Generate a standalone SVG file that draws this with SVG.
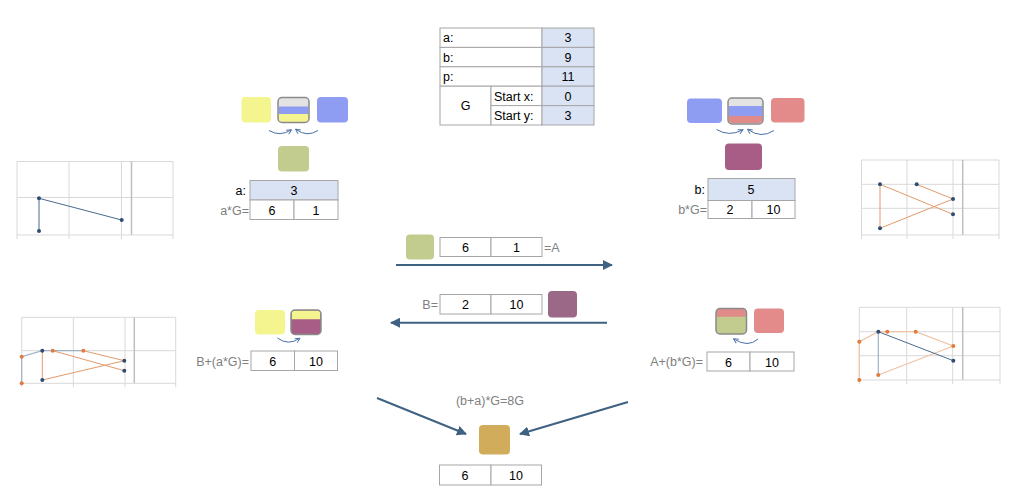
<svg xmlns="http://www.w3.org/2000/svg" width="1024" height="498" viewBox="0 0 1024 498">
<defs>
<marker id="ah" viewBox="0 0 10 10" refX="9" refY="5" markerWidth="5" markerHeight="5" orient="auto"><path d="M0,0 L10,5 L0,10 Z" fill="#3f6182"/></marker>
<marker id="sh" viewBox="0 0 10 10" refX="8" refY="5" markerWidth="6" markerHeight="6" orient="auto"><path d="M1,1 L9,5 L1,9" fill="none" stroke="#4a6fa5" stroke-width="1.5"/></marker>
</defs>
<style>
text{font-family:"Liberation Sans",Arial,sans-serif;font-size:12.5px;fill:#000}
.g{fill:#808080}
.c{text-anchor:middle}
.r{text-anchor:end}
.cell{fill:#fff;stroke:#a6a6a6;stroke-width:1}
.val{fill:#dae3f3;stroke:#a6a6a6;stroke-width:1}
.grid{stroke:#d9d9d9;stroke-width:1;fill:none}
.ax{stroke:#bfbfbf;stroke-width:1.5;fill:none}
.bl{stroke:#4a6a90;stroke-width:1;fill:none}
.bll{stroke:#9fb1c6;stroke-width:1.2;fill:none}
.or{stroke:#e39a6b;stroke-width:1;fill:none}
.orl{stroke:#f0c3a5;stroke-width:1.2;fill:none}
.bp{fill:#2e4d73}
.op{fill:#e07b3c}
.main{stroke:#3f6182;stroke-width:2;fill:none;marker-end:url(#ah)}
.curv{stroke:#4a6fa5;stroke-width:1;fill:none;marker-end:url(#sh)}
.split{stroke:#8a8a8a;stroke-width:1.5}
</style>

<g id="params">
<rect class="cell" x="440" y="28" width="102" height="19.4"/>
<rect class="val" x="542" y="28" width="52" height="19.4"/>
<rect class="cell" x="440" y="47.4" width="102" height="19.4"/>
<rect class="val" x="542" y="47.4" width="52" height="19.4"/>
<rect class="cell" x="440" y="66.8" width="102" height="19.4"/>
<rect class="val" x="542" y="66.8" width="52" height="19.4"/>
<rect class="cell" x="440" y="86.2" width="51" height="38.8"/>
<rect class="cell" x="491" y="86.2" width="51" height="19.4"/>
<rect class="val" x="542" y="86.2" width="52" height="19.4"/>
<rect class="cell" x="491" y="105.6" width="51" height="19.4"/>
<rect class="val" x="542" y="105.6" width="52" height="19.4"/>
<text x="443" y="42">a:</text><text class="c" x="568" y="42">3</text>
<text x="443" y="61.5">b:</text><text class="c" x="568" y="61.5">9</text>
<text x="443" y="81">p:</text><text class="c" x="568" y="81">11</text>
<text class="c" x="465.5" y="110">G</text>
<text x="494" y="100.5">Start x:</text><text class="c" x="568" y="100.5">0</text>
<text x="494" y="120">Start y:</text><text class="c" x="568" y="120">3</text>
</g>

<g id="alice-top">
<rect x="241.5" y="97" width="29.5" height="25.5" rx="4" fill="#f5f58f"/>
<rect x="278" y="97.5" width="31" height="25" rx="4" fill="#e3e3e3"/>
<rect x="278.7" y="106.5" width="29.6" height="7.5" fill="#8e9df2"/>
<path d="M278.7,114 H308.3 V118.5 a3.5,3.5 0 0 1 -3.5,3.5 H282.2 a3.5,3.5 0 0 1 -3.5,-3.5 Z" fill="#f5f58f"/>
<rect class="split" x="278" y="97.5" width="31" height="25" rx="4" fill="none"/>
<rect x="317" y="97" width="31" height="25.5" rx="4" fill="#8e9df2"/>
<path class="curv" d="M269,130.5 Q280,137 291,130"/>
<path class="curv" d="M318,130.5 Q307,137.5 296,129.5"/>
<rect x="278" y="146" width="31" height="25.5" rx="4" fill="#c2cc8e"/>
<rect class="val" x="250" y="180.5" width="88" height="19.5"/>
<rect class="cell" x="250" y="200" width="44" height="19.5"/>
<rect class="cell" x="294" y="200" width="44" height="19.5"/>
<text class="r" x="246" y="195">a:</text>
<text class="c" x="294" y="195">3</text>
<text class="r g" x="249" y="214.5">a*G=</text>
<text class="c" x="272" y="214.5">6</text>
<text class="c" x="316" y="214.5">1</text>
</g>

<g id="bob-top">
<rect x="687" y="98.5" width="35" height="24.5" rx="4" fill="#8e9df2"/>
<rect x="728" y="98" width="35" height="26" rx="4" fill="#e3e3e3"/>
<rect x="728.7" y="106" width="33.6" height="10" fill="#8e9df2"/>
<path d="M728.7,116 H762.3 V119.5 a3.5,3.5 0 0 1 -3.5,3.5 H732.2 a3.5,3.5 0 0 1 -3.5,-3.5 Z" fill="#e08b89"/>
<rect class="split" x="728" y="98" width="35" height="26" rx="4" fill="none"/>
<rect x="771" y="98" width="33.5" height="24.5" rx="4" fill="#e38b8a"/>
<path class="curv" d="M716.5,129.5 Q729,137 742.5,130"/>
<path class="curv" d="M774,130.5 Q761,139 748,129.5"/>
<rect x="725" y="143.5" width="37" height="26.5" rx="4" fill="#a75d86"/>
<rect class="val" x="708" y="178.5" width="87" height="22"/>
<rect class="cell" x="708" y="200.5" width="44" height="18"/>
<rect class="cell" x="752" y="200.5" width="43" height="18"/>
<text class="r" x="705" y="194">b:</text>
<text class="c" x="751" y="194">5</text>
<text class="r g" x="707" y="214">b*G=</text>
<text class="c" x="730" y="214">2</text>
<text class="c" x="773.5" y="214">10</text>
</g>

<g id="chart-a">
<path class="grid" d="M17,161.5 H173 M17,197.5 H173 M69,161.5 V235 M121.5,161.5 V235 M173,161.5 V235 M17,161.5 V235"/>
<path class="ax" d="M131.5,161.5 V235"/>
<path class="grid" d="M17,235 H173 M17,235 v4 M69,235 v4 M121.5,235 v4 M173,235 v4" stroke="#c8c8c8"/>
<path class="bl" d="M39,231 V198.3 L121.7,220"/>
<circle class="bp" cx="39" cy="198.3" r="2"/><circle class="bp" cx="39" cy="231" r="2"/><circle class="bp" cx="121.7" cy="220" r="2"/>
</g>

<g id="chart-b">
<path class="grid" d="M861.5,160 H999 M861.5,184.3 H999 M861.5,208.3 H999 M861.5,160 V235 M907,160 V235 M953,160 V235 M999,160 V235"/>
<path class="ax" d="M962.7,160 V235"/>
<path class="grid" d="M861.5,235 H999 M861.5,235 v4 M907,235 v4 M953,235 v4 M999,235 v4" stroke="#c8c8c8"/>
<path class="or" d="M916.7,184.3 L953,199 M880,184.3 L953,214.3 M880,184.3 V228.3 L953,199"/>
<circle class="bp" cx="880" cy="184.3" r="2"/><circle class="bp" cx="916.7" cy="184.3" r="2"/><circle class="bp" cx="953" cy="199" r="2"/><circle class="bp" cx="953" cy="214.3" r="2"/><circle class="bp" cx="880" cy="228.3" r="2"/>
</g>

<g id="chart-a2">
<path class="grid" d="M21.7,317.3 H175.7 M21.7,350.7 H175.7 M21.7,317.3 V383.3 M73.3,317.3 V383.3 M125,317.3 V383.3 M175.7,317.3 V383.3"/>
<path class="ax" d="M134.3,317.3 V383.3"/>
<path class="grid" d="M21.7,383.3 H175.7 M21.7,383.3 v4 M73.3,383.3 v4 M125,383.3 v4 M175.7,383.3 v4" stroke="#c8c8c8"/>
<path class="bll" d="M21.7,383.3 V356.7 L42.3,350.7 H83.3"/>
<path class="or" d="M83.3,350.7 L124.3,360.7 M52.7,350.7 L124.3,370.7 M42.3,350.7 V380 L124.3,360.7"/>
<circle class="op" cx="21.7" cy="356.7" r="2"/><circle class="op" cx="21.7" cy="383.3" r="2"/><circle class="op" cx="52.7" cy="350.7" r="2"/><circle class="op" cx="83.3" cy="350.7" r="2"/>
<circle class="bp" cx="42.3" cy="350.7" r="2"/><circle class="bp" cx="124.3" cy="360.7" r="2"/><circle class="bp" cx="124.3" cy="370.7" r="2"/><circle class="bp" cx="42.3" cy="380" r="2"/>
</g>

<g id="chart-b2">
<path class="grid" d="M859.3,307.3 H1000 M859.3,331.7 H1000 M859.3,355.7 H1000 M859.3,307.3 V380 M906.7,307.3 V380 M952.7,307.3 V380 M1000,307.3 V380"/>
<path class="ax" d="M962.7,307.3 V380"/>
<path class="grid" d="M859.3,380 H1000 M859.3,380 v4 M906.7,380 v4 M952.7,380 v4 M1000,380 v4" stroke="#c8c8c8"/>
<path class="orl" d="M859.3,380 V341.7 L878.3,331.7 H915.7 L953.3,346 L878.3,375"/>
<path class="bll" d="M878.3,331.7 V375"/>
<path class="bl" d="M878.3,331.7 L953.3,360.7"/>
<circle class="op" cx="859.3" cy="341.7" r="2"/><circle class="op" cx="859.3" cy="380" r="2"/><circle class="op" cx="887.3" cy="331.7" r="2"/><circle class="op" cx="915.7" cy="331.7" r="2"/><circle class="op" cx="953.3" cy="346" r="2"/><circle class="op" cx="878.3" cy="375" r="2"/>
<circle class="bp" cx="878.3" cy="331.7" r="2"/><circle class="bp" cx="953.3" cy="360.7" r="2"/>
</g>

<g id="send-A">
<rect x="406" y="234.5" width="28" height="25" rx="4" fill="#c2cc8e"/>
<rect class="cell" x="440" y="237.5" width="51" height="19"/>
<rect class="cell" x="491" y="237.5" width="51" height="19"/>
<text class="c" x="465.5" y="251.5">6</text>
<text class="c" x="516.5" y="251.5">1</text>
<text class="g" x="544" y="251.5">=A</text>
</g>

<g id="send-B">
<text class="r g" x="438" y="309">B=</text>
<rect class="cell" x="440" y="294.5" width="51" height="19.5"/>
<rect class="cell" x="491" y="294.5" width="51" height="19.5"/>
<text class="c" x="465.5" y="309">2</text>
<text class="c" x="516.5" y="309">10</text>
<rect x="548" y="291" width="29" height="26.5" rx="4" fill="#9c6888"/>
</g>

<g id="alice-bottom">
<rect x="255" y="310" width="30" height="24.5" rx="4" fill="#f5f58f"/>
<rect x="291" y="310" width="30" height="24.5" rx="4" fill="#a75d86"/>
<path d="M291.7,319.3 V313.5 a3,3 0 0 1 3,-3 H317.3 a3,3 0 0 1 3,3 V319.3 Z" fill="#f5f58f"/>
<rect class="split" x="291" y="310" width="30" height="24.5" rx="4" fill="none"/>
<path class="curv" d="M277.5,338 Q288,346 299.5,338.5"/>
<text class="r g" x="249" y="366">B+(a*G)=</text>
<rect class="cell" x="251" y="351" width="43.5" height="19.5"/>
<rect class="cell" x="294.5" y="351" width="43" height="19.5"/>
<text class="c" x="272.7" y="366">6</text>
<text class="c" x="316" y="366">10</text>
</g>

<g id="bob-bottom">
<rect x="716" y="308.5" width="30.5" height="25.5" rx="4" fill="#c2cc8e"/>
<path d="M716.7,316.7 V312 a3,3 0 0 1 3,-3 H742.8 a3,3 0 0 1 3,3 V316.7 Z" fill="#e08b89"/>
<rect class="split" x="716" y="308.5" width="30.5" height="25.5" rx="4" fill="none"/>
<rect x="754" y="308.5" width="30" height="24.5" rx="4" fill="#e38b8a"/>
<path class="curv" d="M758,339 Q748,348 734,339"/>
<text class="r g" x="703" y="366">A+(b*G)=</text>
<rect class="cell" x="707" y="352" width="43" height="19"/>
<rect class="cell" x="750" y="352" width="44" height="19"/>
<text class="c" x="728.5" y="366.5">6</text>
<text class="c" x="772" y="366.5">10</text>
</g>

<g id="shared">
<text class="c g" x="490" y="405">(b+a)*G=8G</text>
<rect x="479" y="425" width="31" height="29.5" rx="4" fill="#d1ad5b"/>
<rect class="cell" x="439.5" y="465" width="51.5" height="20"/>
<rect class="cell" x="491" y="465" width="50.5" height="20"/>
<text class="c" x="465" y="479.5">6</text>
<text class="c" x="516" y="479.5">10</text>
</g>

<g id="connectors">
<path class="main" d="M396,265 H612"/>
<path class="main" d="M607,322.7 H391"/>
<path class="main" d="M377,398 L466,434"/>
<path class="main" d="M628,402 L520,434"/>
</g>
</svg>
